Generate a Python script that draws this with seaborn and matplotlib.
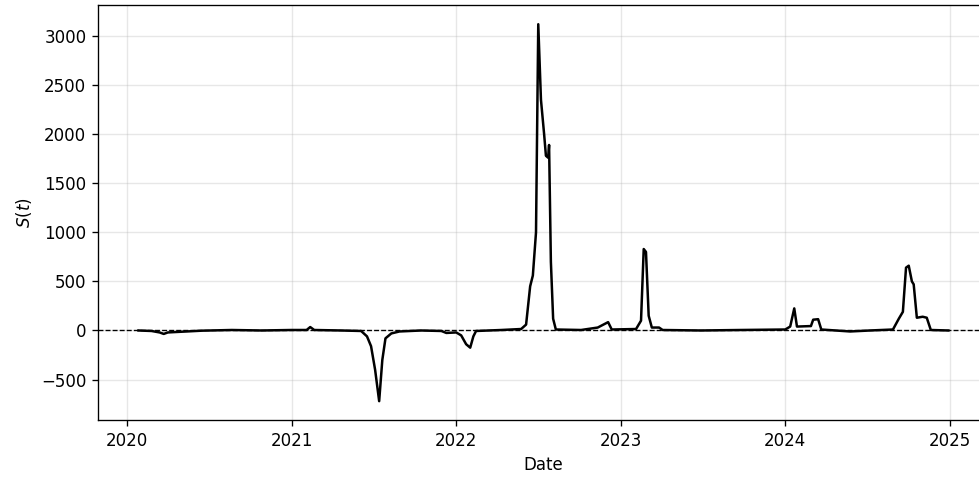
import numpy as np
import pandas as pd
import matplotlib
matplotlib.use("Agg")
import matplotlib.pyplot as plt
import seaborn as sns

# key points of S(t)
dates = [
    "2020-01-27", "2020-02-25", "2020-03-14", "2020-03-23", "2020-04-01", "2020-04-21",
    "2020-05-13", "2020-06-15", "2020-08-21", "2020-10-26", "2020-12-31", "2021-02-03",
    "2021-02-11", "2021-02-20", "2021-04-21", "2021-06-04", "2021-06-17", "2021-06-26",
    "2021-07-05", "2021-07-14", "2021-07-21", "2021-07-28", "2021-08-10", "2021-08-28",
    "2021-10-15", "2021-11-29", "2021-12-10", "2022-01-01", "2022-01-12", "2022-01-23",
    "2022-02-01", "2022-02-08", "2022-02-14", "2022-04-11", "2022-05-25", "2022-06-05",
    "2022-06-14", "2022-06-20", "2022-06-27", "2022-07-02", "2022-07-08", "2022-07-15",
    "2022-07-19", "2022-07-24", "2022-07-26", "2022-07-30", "2022-08-04", "2022-08-10",
    "2022-10-05", "2022-11-11", "2022-12-04", "2022-12-12", "2023-02-04", "2023-02-15",
    "2023-02-21", "2023-02-26", "2023-03-04", "2023-03-11", "2023-03-27", "2023-04-04",
    "2023-06-28", "2023-09-24", "2024-01-01", "2024-01-12", "2024-01-21", "2024-01-27",
    "2024-02-27", "2024-03-03", "2024-03-14", "2024-03-21", "2024-05-24", "2024-07-07",
    "2024-08-27", "2024-09-09", "2024-09-18", "2024-09-25", "2024-10-01", "2024-10-08",
    "2024-10-12", "2024-10-19", "2024-11-01", "2024-11-10", "2024-11-19", "2024-12-28",
]
values = [
    0, -5, -20, -35, -20, -15,
    -10, -2, 5, 0, 5, 5,
    35, 5, 0, -5, -60, -160,
    -400, -720, -300, -80, -30, -10,
    0, -5, -25, -20, -50, -140,
    -175, -60, -5, 5, 15, 60,
    450, 560, 1000, 3120, 2350, 2000,
    1780, 1760, 1890, 700, 120, 10,
    5, 30, 85, 10, 15, 100,
    830, 800, 150, 30, 30, 5,
    0, 5, 10, 40, 225, 40,
    45, 110, 115, 10, -10, 0,
    10, 120, 190, 640, 660, 500,
    470, 130, 140, 130, 5, 0,
]

df = pd.DataFrame({"Date": pd.to_datetime(dates), "S": values})

# figure was rendered at 120 dpi, right side cut off at the edge
fig = plt.figure(figsize=(979 / 120, 481 / 120), dpi=120)
ax = fig.add_axes([0.1001, 0.1268, 0.910, 0.862])
sns.lineplot(data=df, x="Date", y="S", color="black", linewidth=1.5, ax=ax)
ax.axhline(0, color="black", linestyle="--", linewidth=0.8)
ax.grid(True, alpha=0.3)
ax.set_xlabel("Date")
ax.set_ylabel("$S(t)$")

fig.savefig("out.png", dpi=120)
